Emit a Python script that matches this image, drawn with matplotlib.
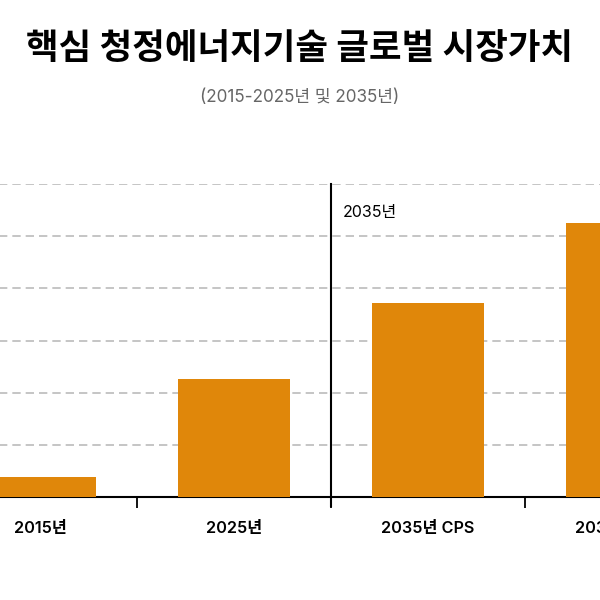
import matplotlib
matplotlib.use("Agg")
import matplotlib.pyplot as plt

plt.rcParams['font.family'] = ['Inter', 'Noto Sans CJK KR', 'DejaVu Sans']

categories = ["2015년", "2025년", "2035년 CPS", "2035년 NZE"]
values = [38, 226, 371, 526]
yticks = [0, 100, 200, 300, 400, 500, 600]
color = "#E0870A"

fig = plt.figure(figsize=(6, 6), dpi=100)
ax = fig.add_axes([-57/600, 1-497/600, 776/600, 313/600])
x = list(range(len(categories)))
ax.bar(x, values, width=0.58, color=color, zorder=3)
ax.set_xlim(-0.5, len(categories)-0.5)
ax.set_ylim(0, 600)
ax.set_yticks(yticks)
ax.yaxis.grid(True, linestyle=(0, (5, 3)), color="#bbbbbb", linewidth=1.2, zorder=0)
ax.set_yticklabels([])
ax.tick_params(axis='y', length=0)
for s in ['top', 'right', 'left']:
    ax.spines[s].set_visible(False)
ax.spines['bottom'].set_linewidth(1.5)
ax.set_xticks([0.5, 1.5, 2.5], minor=True)
ax.tick_params(axis='x', which='minor', length=8, width=1.3)
ax.set_xticks(x)
ax.set_xticklabels(categories, fontsize=11.7, fontweight='semibold')
ax.tick_params(axis='x', which='major', length=0, pad=17)
ax.axvline(1.5, ymin=-0.03, ymax=1, color="black", linewidth=1.5, clip_on=False, zorder=4)
ax.text(1.56, 545, "2035년", fontsize=11.5, ha='left', va='center')

fig.text(0.5, 1-50/600, "핵심 청정에너지기술 글로벌 시장가치", ha='center', va='center',
         fontsize=25.5, fontweight='bold')
fig.text(0.5, 1-98/600, "(2015-2025년 및 2035년)", ha='center', va='center',
         fontsize=12.3, color="#666666")
fig.savefig("out.png", dpi=100)
